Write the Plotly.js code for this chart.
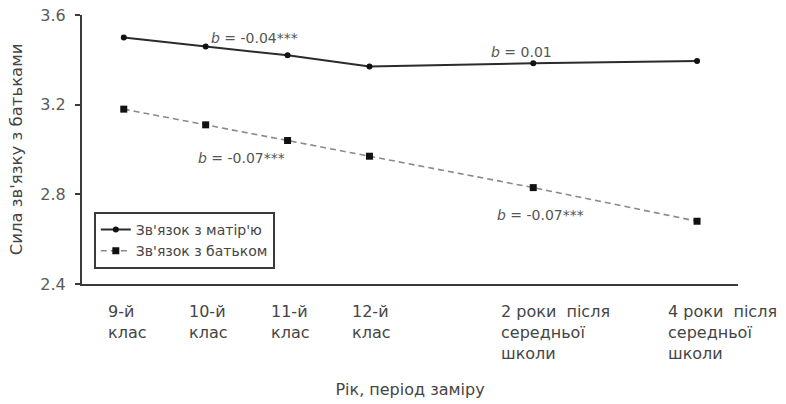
<!DOCTYPE html>
<html>
<head>
<meta charset="utf-8">
<script src="https://cdn.plot.ly/plotly-3.0.1.min.js"></script>
<style>html,body{margin:0;padding:0;background:#fff;}#chart{width:786px;height:404px;}</style>
</head>
<body>
<div id="chart"></div>
<script>
// Measurement time (years of study; school grades then years after school)
const timePoints = [9, 10, 11, 12, 14, 16];
const timeLabels = ["9-й<br>клас", "10-й<br>клас", "11-й<br>клас", "12-й<br>клас",
  "2 роки  після<br>середньої<br>школи", "4 роки  після<br>середньої<br>школи"];
const motherValues = [3.50, 3.46, 3.42, 3.37, 3.385, 3.395];
const fatherValues = [3.18, 3.11, 3.04, 2.97, 2.83, 2.68];
const seriesNames = ["Зв'язок з матір'ю", "Зв'язок з батьком"];
const yTicks = [2.4, 2.8, 3.2, 3.6];
const slopeTexts = ["<i>b</i> = -0.04***", "<i>b</i> = 0.01", "<i>b</i> = -0.07***", "<i>b</i> = -0.07***"];
const slopeX = [10.6, 13.86, 10.44, 14.09];
const slopeY = [3.497, 3.435, 2.962, 2.707];

const textColor = "#454545";
const font = "DejaVu Sans, Liberation Sans, Arial, sans-serif";

const traces = [
  {x: timePoints, y: motherValues, name: seriesNames[0], type: "scatter", mode: "lines+markers",
   line: {color: "#2b2b2b", width: 2}, marker: {color: "#111", size: 6, symbol: "circle"}},
  {x: timePoints, y: fatherValues, name: seriesNames[1], type: "scatter", mode: "lines+markers",
   line: {color: "#8a8a8a", width: 1.6, dash: "6px,4px"}, marker: {color: "#111", size: 7, symbol: "square"}}
];

const labelShift = [-18, -19, -19, -19, -34, -31];
const annotations = [];
timePoints.forEach((t, i) => {
  annotations.push({x: t, y: 0, xref: "x", yref: "paper", yanchor: "top", xanchor: "left",
    xshift: labelShift[i], yshift: -16, align: "left", showarrow: false, text: timeLabels[i],
    font: {family: font, size: 16, color: textColor}});
});
slopeTexts.forEach((s, i) => {
  annotations.push({x: slopeX[i], y: slopeY[i], xref: "x", yref: "y", showarrow: false, text: s,
    font: {family: font, size: 14, color: "#555"}});
});

const layout = {
  width: 786, height: 404,
  margin: {l: 82, r: 48, t: 15, b: 120},
  paper_bgcolor: "#fff", plot_bgcolor: "#fff",
  font: {family: font, color: textColor},
  showlegend: true,
  legend: {x: 0.018, y: 0.268, xanchor: "left", yanchor: "top", bgcolor: "#fff",
    bordercolor: "#3a3a3a", borderwidth: 2, font: {family: font, size: 14, color: textColor},
    tracegroupgap: 0, itemwidth: 30},
  xaxis: {range: [8.49, 16.5], showgrid: false, zeroline: false, showticklabels: false,
    ticks: "", showline: true, linecolor: "#3a3a3a", linewidth: 2,
    title: {text: "Рік, період заміру", font: {family: font, size: 16, color: textColor}, standoff: 99}},
  yaxis: {range: [2.4, 3.6], tickvals: yTicks, ticktext: yTicks.map(v => v.toFixed(1)),
    showgrid: false, zeroline: false, showline: true, linecolor: "#3a3a3a", linewidth: 2,
    ticks: "outside", ticklen: 5, tickwidth: 2, tickcolor: "#3a3a3a", ticklabelstandoff: 6,
    tickfont: {family: font, size: 16, color: "#5a5a5a"},
    title: {text: "Сила зв'язку з батьками", font: {family: font, size: 16.5, color: textColor}, standoff: 14}},
  annotations: annotations
};

Plotly.newPlot("chart", traces, layout, {displayModeBar: false, staticPlot: true});
</script>
</body>
</html>
